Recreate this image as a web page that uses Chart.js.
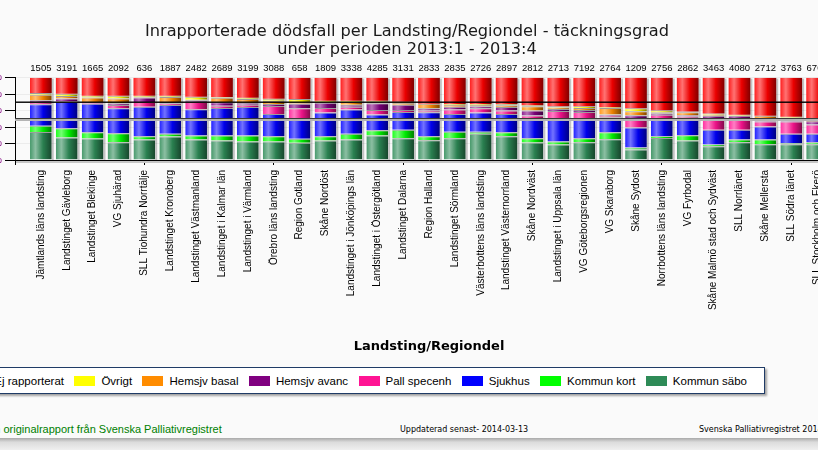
<!DOCTYPE html>
<html lang="sv">
<head>
<meta charset="utf-8">
<title>Täckningsgrad per Landsting/Regiondel</title>
<script src="https://cdn.jsdelivr.net/npm/chart.js@4.4.1/dist/chart.umd.min.js"></script>
<style>
  body { margin:0; width:818px; height:450px; overflow:hidden; position:relative; background:#fafafa; font-family:"Liberation Sans", Arial, sans-serif; }
  #wrap { position:absolute; left:-29px; top:0; }
  .legend { position:absolute; left:-80px; top:367px; width:845px; height:27px; box-sizing:border-box; background:#fff;
            border:1px solid #1f3b66; box-shadow:2px 2px 2px rgba(0,0,0,.35);
            display:flex; align-items:center; justify-content:flex-end; padding-right:17px; font-size:11.5px; color:#000; white-space:nowrap; }
  .legend span.sw { display:inline-block; width:21px; height:10px; margin-right:6px; }
  .legend .item { display:flex; align-items:center; margin-left:10.4px; }
  .src { position:absolute; left:-54px; top:423px; font-size:11px; color:#008000; white-space:nowrap; }
  .upd, .cr { position:absolute; top:425px; font:8px "DejaVu Sans", sans-serif; color:#000; white-space:nowrap; }
  .upd { left:400px; }
  .cr { left:699px; }
  .band { position:absolute; left:0; top:438px; width:818px; height:12px; background:linear-gradient(#a9a9a9, #dcdcdc 35%, #efefef); }
</style>
</head>
<body>
<div id="wrap"><canvas id="chart" width="892" height="360"></canvas></div>
<div class="legend" id="legend"></div>
<div class="src">Detta är en originalrapport från Svenska Palliativregistret</div>
<div class="upd">Uppdaterad senast- 2014-03-13</div>
<div class="cr">Svenska Palliativregistret 2014</div>
<div class="band"></div>

<script>
// regions, sorted by share not reported
const regions = ['Jämtlands läns landsting', 'Landstinget Gävleborg', 'Landstinget Blekinge', 'VG Sjuhärad',
  'SLL Tiohundra Norrtälje', 'Landstinget Kronoberg', 'Landstinget Västmanland', 'Landstinget i Kalmar län',
  'Landstinget i Värmland', 'Örebro läns landsting', 'Region Gotland', 'Skåne Nordöst',
  'Landstinget i Jönköpings län', 'Landstinget i Östergötland', 'Landstinget Dalarna', 'Region Halland',
  'Landstinget Sörmland', 'Västerbottens läns landsting', 'Landstinget Västernorrland', 'Skåne Nordväst',
  'Landstinget i Uppsala län', 'VG Göteborgsregionen', 'VG Skaraborg', 'Skåne Sydost',
  'Norrbottens läns landsting', 'VG Fyrbodal', 'Skåne Malmö stad och Sydväst', 'SLL Norrlänet',
  'Skåne Mellersta', 'SLL Södra länet', 'SLL Stockholm och Ekerö'];

// number of deaths (shown above each bar)
const counts = [1505, 3191, 1665, 2092, 636, 1887, 2482, 2689, 3199, 3088, 658, 1809, 3338, 4285, 3131, 2833,
  2835, 2726, 2897, 2812, 2713, 7192, 2764, 1209, 2756, 2862, 3463, 4080, 2712, 3763, 6705];

// percent per place of death
const kommunSabo   = [34, 27.2, 26, 21.6, 24.8, 28.4, 24.8, 23.6, 22.4, 22.4, 20.8, 23.6, 24.8, 29.6, 26.4, 24, 26.4, 32, 28.8, 21.2, 18.8, 21.6, 25.2, 12.8, 26.8, 23.6, 16.8, 21.6, 19.2, 19.2, 19.2];
const kommunKort   = [7.6, 11.2, 7.6, 10.8, 4, 3.6, 4.8, 6, 7.2, 6.4, 5, 5.2, 7.2, 6.4, 10.4, 4.8, 8, 2.4, 4.8, 5.2, 3.6, 4.8, 8.4, 2.4, 2, 6.4, 2, 3.2, 5.6, 1.2, 2.4];
const sjukhus      = [26, 32, 34.8, 30.4, 36, 34.8, 32, 33.6, 34.8, 27.2, 25, 28.8, 29.2, 19.2, 21.6, 29.2, 21.6, 23.2, 22.4, 22.4, 26.4, 24, 18.4, 24.4, 20, 19.6, 18, 12, 16, 11.6, 10.4];
const pallSpecenh  = [2.4, 0.8, 1, 4, 5.6, 2, 9.2, 2.8, 2.8, 9.6, 12, 5.6, 3.6, 5.6, 2.4, 2, 5.2, 5.2, 4, 5.2, 10.8, 8, 1.6, 9.2, 6, 3.2, 12, 12, 6, 14.8, 11.2];
const hemsjvAvanc  = [2.4, 3.6, 1, 2, 5.6, 1.6, 1.6, 4, 2, 2.4, 5.6, 6.4, 2.4, 8, 6.4, 2.8, 3.6, 2.4, 4.4, 6, 2.4, 2.4, 1.6, 5.6, 2, 1.6, 4.8, 4.8, 2.8, 4.4, 4];
const hemsjvBasal  = [6.8, 2.8, 5.6, 6, 0.4, 6, 0.8, 5.6, 4.8, 4, 1.2, 0.8, 3.2, 1.2, 2, 5.6, 2, 1.6, 2, 5.2, 1.6, 2.4, 8, 4.8, 1.2, 3.6, 1.2, 0, 4, 0, 0];
const ovrigt       = [2, 2.8, 2, 3.2, 1.6, 1.6, 3.6, 0.8, 1.6, 2.4, 4.4, 1.6, 1.6, 2, 1.6, 0, 1.2, 1.2, 1.6, 1.2, 1.6, 2, 0.8, 3.6, 2.4, 0.8, 1.6, 1.2, 0, 1.2, 0];
const ejRapporterat = [18.8, 19.6, 22, 22, 22, 22, 23.2, 23.6, 24.4, 25.6, 26, 28, 28, 28, 29.2, 31.6, 32, 32, 32, 33.6, 34.8, 34.8, 36, 37.2, 39.6, 41.2, 43.6, 45.2, 46.4, 47.6, 52.8];

const seriesNames  = ['Kommun säbo', 'Kommun kort', 'Sjukhus', 'Pall specenh', 'Hemsjv avanc', 'Hemsjv basal', 'Övrigt', 'Ej rapporterat'];
const seriesValues = [kommunSabo, kommunKort, sjukhus, pallSpecenh, hemsjvAvanc, hemsjvBasal, ovrigt, ejRapporterat];
const seriesColors = ['#2e8b57', '#00ff00', '#0000ff', '#ff1493', '#800080', '#ff8c00', '#ffff00', '#ff0000'];

const yTicks = [0, 20, 40, 60, 80, 100];
const targetLines = [70, 50];

const barPct = 0.84;

function mix(hex, to, t) {
  const a = parseInt(hex.slice(1), 16), b = parseInt(to.slice(1), 16);
  const ch = (v, s) => (v >> s) & 255;
  const m = s => Math.round(ch(a, s) + (ch(b, s) - ch(a, s)) * t);
  return 'rgb(' + m(16) + ',' + m(8) + ',' + m(0) + ')';
}

// cylinder look, like the original report
function barFill(c, base) {
  const chart = c.chart, x = chart.scales.x;
  if (!chart.chartArea || !x || c.dataIndex === undefined) return base;
  const cx = x.getPixelForValue(c.dataIndex + 1);
  const half = (x.getPixelForValue(1) - x.getPixelForValue(0)) * barPct / 2;
  const g = chart.ctx.createLinearGradient(cx - half, 0, cx + half, 0);
  g.addColorStop(0, mix(base, '#ffffff', 0.12));
  g.addColorStop(0.25, mix(base, '#ffffff', 0.45));
  g.addColorStop(0.6, mix(base, '#000000', 0.08));
  g.addColorStop(1, mix(base, '#000000', 0.5));
  return g;
}

const extras = {
  id: 'extras',
  beforeDatasetsDraw(chart) {
    const {ctx, chartArea: a, scales: {x}} = chart;
    const step = x.getPixelForValue(1) - x.getPixelForValue(0);
    ctx.save();
    regions.forEach((r, i) => {
      const right = x.getPixelForValue(i + 1) + step * barPct / 2;
      ctx.fillStyle = 'rgba(0,0,0,0.22)';
      ctx.fillRect(right, a.top + 1, 2, a.bottom - a.top - 1);
    });
    ctx.fillStyle = '#c6c6c6';
    ctx.fillRect(a.left + 1, a.bottom + 1, a.right - a.left, 2);
    ctx.restore();
  },
  afterDatasetsDraw(chart) {
    const {ctx, chartArea: a, scales: {x, y}} = chart;
    ctx.save();
    targetLines.forEach((v, k) => {
      const py = Math.round(y.getPixelForValue(v));
      if (k === 0) {
        ctx.fillStyle = '#000';
        ctx.fillRect(a.left, py - 0.5, a.right - a.left, 1.4);
      } else {
        ctx.fillStyle = '#b4b4b4';
        ctx.fillRect(a.left, py, a.right - a.left, 2);
        ctx.fillStyle = '#3a3a3a';
        ctx.fillRect(a.left, py - 1, a.right - a.left, 1);
      }
    });
    ctx.fillStyle = '#000';
    ctx.font = '9.5px "Liberation Sans"';
    ctx.textAlign = 'center';
    ctx.textBaseline = 'middle';
    counts.forEach((n, i) => ctx.fillText(String(n), x.getPixelForValue(i + 1), a.top - 9));
    ctx.restore();
  }
};

new Chart(document.getElementById('chart'), {
  type: 'bar',
  data: {
    datasets: seriesNames.map((name, k) => ({
      label: name,
      data: seriesValues[k].map((v, i) => ({x: i + 1, y: v})),
      backgroundColor: c => barFill(c, seriesColors[k]),
      borderColor: 'rgba(45,45,45,0.45)',
      borderWidth: k === seriesNames.length - 1 ? 0 : {top: 1, left: 0, right: 0, bottom: 0},
      barPercentage: barPct,
      categoryPercentage: 1
    }))
  },
  options: {
    responsive: false,
    animation: false,
    layout: {padding: {top: 0, right: 20, bottom: 0, left: 0}},
    plugins: {
      legend: {display: false},
      tooltip: {enabled: false},
      title: {
        display: true,
        text: ['Inrapporterade dödsfall per Landsting/Regiondel - täckningsgrad', 'under perioden 2013:1 - 2013:4'],
        color: '#1a1a1a',
        font: {family: 'DejaVu Sans', size: 16.2, weight: 'normal', lineHeight: 1.1},
        padding: {top: 23, bottom: 19}
      }
    },
    scales: {
      x: {
        type: 'linear',
        stacked: true,
        offset: false,
        min: 0,
        max: regions.length + 1,
        afterBuildTicks: s => { s.ticks = Array.from({length: regions.length + 2}, (_, v) => ({value: v})); },
        afterFit: s => { s.height = 200; },
        border: {color: '#000', width: 1},
        grid: {
          offset: false,
          drawOnChartArea: false,
          tickLength: 5,
          tickColor: c => (c.tick && c.tick.value % 5 === 0) ? '#000' : 'rgba(0,0,0,0)'
        },
        ticks: {
          autoSkip: false,
          minRotation: 90,
          maxRotation: 90,
          padding: 5,
          color: '#000',
          font: {family: 'Liberation Sans', size: 10},
          callback: v => regions[v - 1] || ''
        },
        title: {
          display: true,
          text: 'Landsting/Regiondel',
          color: '#000',
          font: {family: 'DejaVu Sans', size: 13, weight: 'bold', lineHeight: 1.2},
          padding: {top: 0, bottom: 6}
        }
      },
      y: {
        stacked: true,
        min: 0,
        max: 100,
        afterBuildTicks: s => { s.ticks = yTicks.map(v => ({value: v})); },
        afterFit: s => { s.width = 44; },
        border: {color: '#000', width: 1},
        grid: {color: '#ececec', tickColor: '#000', tickLength: 10},
        ticks: {
          padding: 3,
          color: '#800080',
          font: {family: 'Liberation Sans', size: 10},
          callback: v => v + '%'
        }
      }
    }
  },
  plugins: [extras]
});

// legend, top series first as in the report
const legend = document.getElementById('legend');
seriesNames.map((n, k) => k).reverse().forEach(k => {
  const item = document.createElement('div');
  item.className = 'item';
  const sw = document.createElement('span');
  sw.className = 'sw';
  sw.style.background = seriesColors[k];
  item.appendChild(sw);
  item.appendChild(document.createTextNode(seriesNames[k]));
  legend.appendChild(item);
});
</script>
</body>
</html>
